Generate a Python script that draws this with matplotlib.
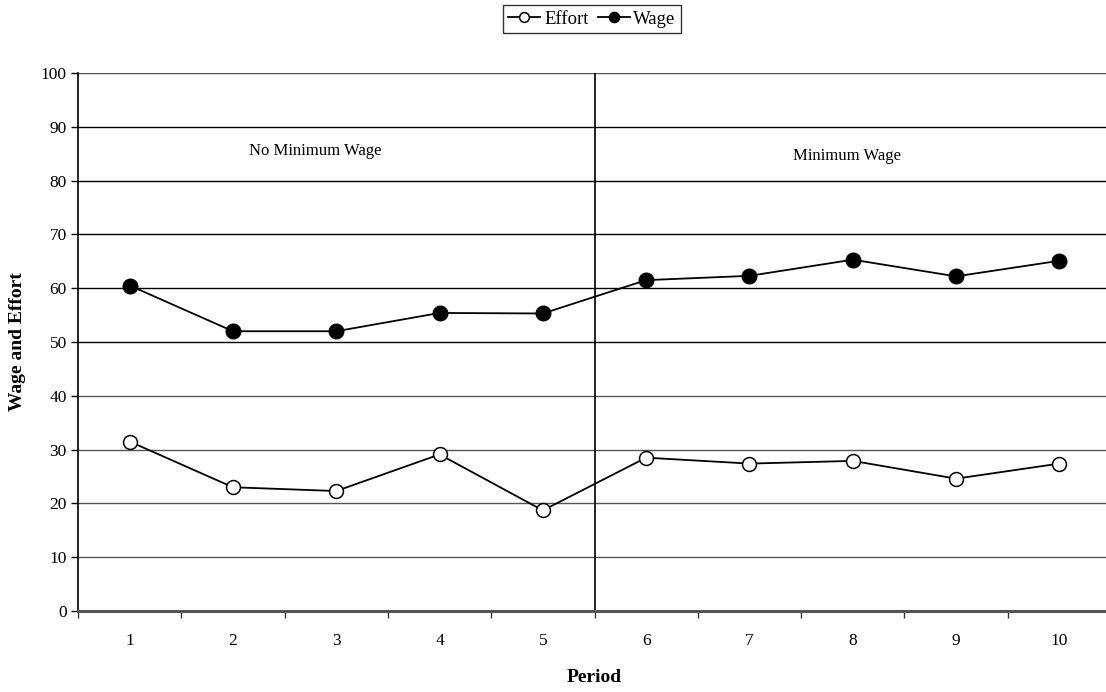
import matplotlib

matplotlib.use("Agg")
import matplotlib.pyplot as plt
import numpy as np

periods = [1, 2, 3, 4, 5, 6, 7, 8, 9, 10]
effort = [31.5, 23.0, 22.3, 29.1, 18.7, 28.5, 27.4, 27.9, 24.6, 27.4]
wage = [60.5, 52.0, 52.0, 55.4, 55.3, 61.5, 62.3, 65.3, 62.2, 65.1]
y_ticks = [0, 10, 20, 30, 40, 50, 60, 70, 80, 90, 100]
regime_labels = ["No Minimum Wage", "Minimum Wage"]

plt.rcParams["font.family"] = ["Liberation Serif", "DejaVu Serif"]

fig = plt.figure(figsize=(11.06, 6.92), dpi=100)
ax = fig.add_axes([78 / 1106, 81 / 692, 1033 / 1106, 538 / 692])

x = np.arange(1, len(periods) + 1)

# gridlines: upper ones render darker in the source
for v in y_ticks[1:]:
    col = "#000000" if 50 <= v <= 90 else "#555555"
    ax.axhline(v, color=col, linewidth=1.0, zorder=1)

ax.axvline(5.5, color="black", linewidth=1.2, zorder=2)

ax.plot(x, effort, color="black", linewidth=1.3, marker="o", markersize=10,
        markerfacecolor="white", markeredgecolor="black", markeredgewidth=1.1,
        label="Effort", zorder=3)
ax.plot(x, wage, color="black", linewidth=1.3, marker="o", markersize=10.5,
        markerfacecolor="black", markeredgecolor="black",
        label="Wage", zorder=3)

ax.text(2.80, 85.5, regime_labels[0], ha="center", va="center", fontsize=12)
ax.text(7.94, 84.6, regime_labels[1], ha="center", va="center", fontsize=12)

ax.set_xlim(0.5, len(periods) + 0.5)
ax.set_ylim(0, 100)
ax.set_yticks(y_ticks)
ax.set_yticklabels([str(v) for v in y_ticks], fontsize=12.5)
ax.set_xticks(np.arange(0.5, len(periods) + 1, 1.0))
ax.set_xticklabels([])
ax.set_xticks(x, minor=True)
ax.set_xticklabels([str(p) for p in periods], minor=True, fontsize=12.5)
ax.tick_params(axis="x", which="major", direction="out", length=5, width=1.0,
               color="#333333")
ax.tick_params(axis="x", which="minor", length=0, pad=16)
ax.tick_params(axis="y", direction="out", length=5, width=1.0, pad=3)

for side in ["top", "right"]:
    ax.spines[side].set_visible(False)
ax.spines["left"].set_linewidth(1.2)
ax.spines["bottom"].set_linewidth(2.2)
ax.spines["bottom"].set_color("#555555")

ax.set_xlabel("Period", fontsize=14, fontweight="bold")
ax.xaxis.set_label_coords(0.5, -(677 - 611) / 538)
ax.xaxis.label.set_va("center")
ax.set_ylabel("Wage and Effort", fontsize=14, fontweight="bold")
ax.yaxis.set_label_coords(-(78 - 18) / 1033, 0.5)
ax.yaxis.label.set_va("center")

leg = fig.legend(loc="center", bbox_to_anchor=(592 / 1106, 1 - 19 / 692), ncol=2,
                 fontsize=13.5, frameon=True, fancybox=False, edgecolor="black",
                 handlelength=1.7, handletextpad=0.2, columnspacing=0.5,
                 borderpad=0.3, markerscale=0.7)
leg.get_frame().set_linewidth(1.0)

fig.savefig("out.png", dpi=100)
plt.close(fig)
